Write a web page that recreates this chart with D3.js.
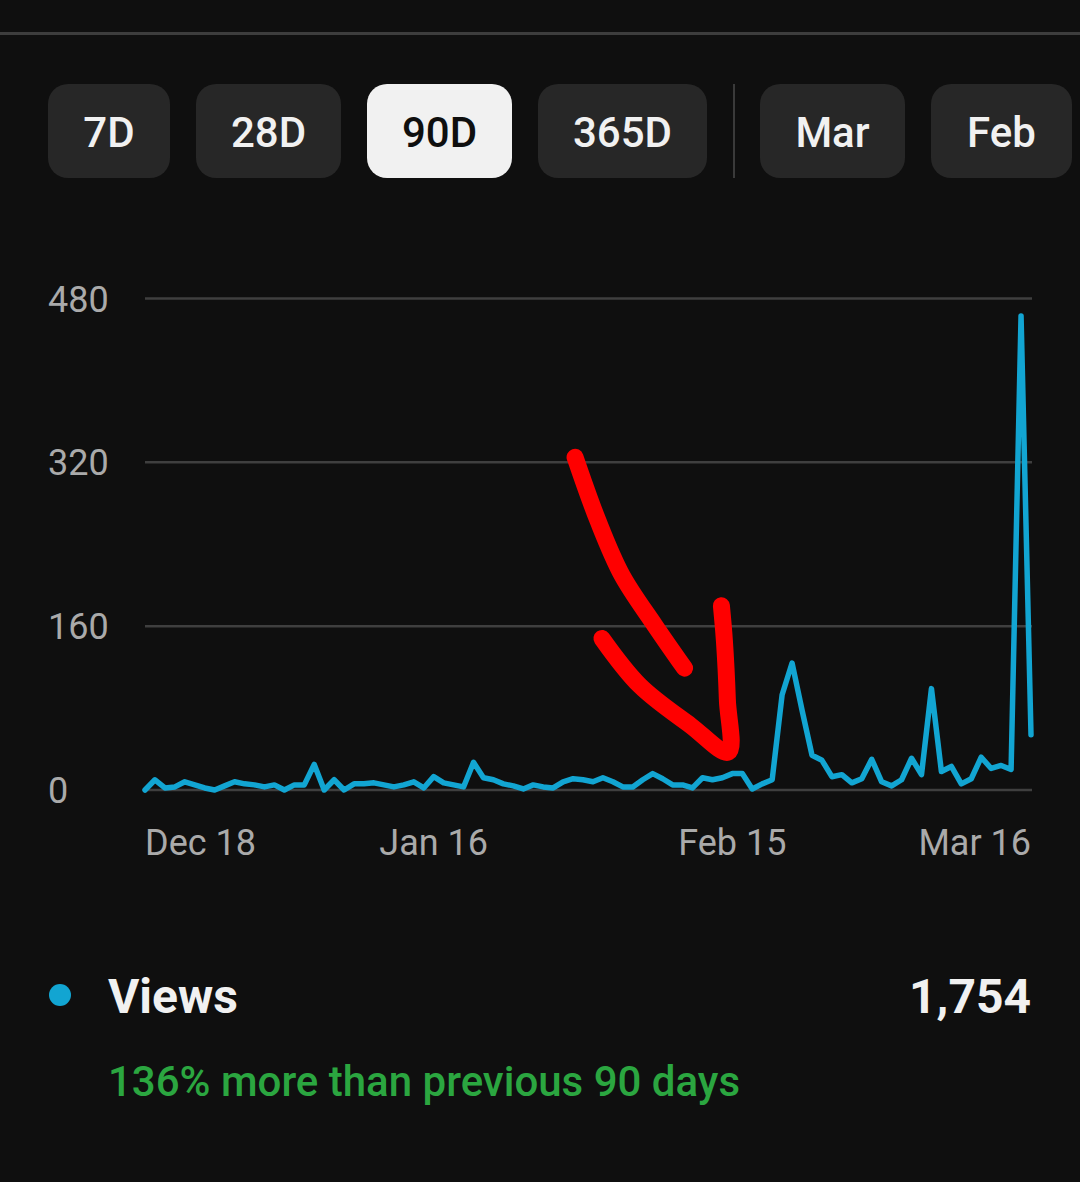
<!DOCTYPE html>
<html><head><meta charset="utf-8">
<script src="https://cdn.jsdelivr.net/npm/d3@7"></script>
<style>
html,body{margin:0;padding:0;background:#0f0f0f;}
svg{display:block;font-family:Roboto,"Noto Sans",sans-serif;}
</style></head>
<body><svg id="c" width="1080" height="1182"></svg>
<script>
// ---- data ----
const startDate = "2023-12-18";
const views = [0,10,2,3,8,5,2,0,4,8,6,5,3,5,0,5,5,25,0,10,0,6,6,7,5,3,5,8,2,13,7,5,3,
  27,12,10,6,4,1,5,3,2,8,11,10,8,12,8,3,3,10,16,11,5,5,2,12,10,12,16,16,1,6,10,
  93,124,78,34,29,13,15,7,11,30,8,4,10,31,15,99,18,23,6,11,32,21,24,20,463,54];
const yTicks = [0,160,320,480];
const xTickDates = ["2023-12-18","2024-01-16","2024-02-15","2024-03-16"];
const xTickLabels = ["Dec 18","Jan 16","Feb 15","Mar 16"];
const buttons = ["7D","28D","90D","365D","Mar","Feb"];
const selected = "90D";
const legendLabel = "Views";
const legendTotal = "1,754";
const comparison = "136% more than previous 90 days";
// hand-drawn annotation arrow, in data coordinates [dayIndex, value]
const arrowStroke1 = [[43.2,325],[45.5,263],[47.9,210],[51.2,161],[54.2,119]];
const arrowStroke2 = [[45.9,148],[49.7,102],[54.8,63],[58.6,37],[58.5,88],[58.2,146],[57.9,180]];

// ---- drawing ----
const svg = d3.select("#c");
const parse = d3.utcParse("%Y-%m-%d");
const d0 = parse(startDate);
const dates = views.map((v,i)=>d3.utcDay.offset(d0,i));
const data = views.map((v,i)=>({date:dates[i], v}));

svg.append("rect").attr("width",1080).attr("height",1182).attr("fill","#0f0f0f");
svg.append("rect").attr("x",0).attr("y",32).attr("width",1080).attr("height",3).attr("fill","#3d3d3d");

// buttons
const btnX = [48,196,367,538,760,931];
const btnW = [122,145,145,169,145,141];
const bg = svg.append("g");
buttons.forEach((b,i)=>{
  const sel = b===selected;
  bg.append("rect").attr("x",btnX[i]).attr("y",84).attr("width",btnW[i]).attr("height",94)
    .attr("rx",20).attr("fill", sel?"#f1f1f1":"#272727");
  bg.append("text").attr("x",btnX[i]+btnW[i]/2).attr("y",147).attr("text-anchor","middle")
    .attr("font-size",42).attr("font-weight",500).attr("fill", sel?"#0f0f0f":"#f1f1f1").text(b);
});
bg.append("rect").attr("x",733).attr("y",84).attr("width",2).attr("height",94).attr("fill","#3a3a3a");

const x = d3.scaleUtc().domain([dates[0], dates[dates.length-1]]).range([145,1031]);
const xi = d3.scaleLinear().domain([0, views.length-1]).range([145,1031]);
const y = d3.scaleLinear().domain([0,480]).range([790,298.5]);

// grid + y labels
const grid = svg.append("g");
yTicks.forEach(t=>{
  grid.append("line").attr("x1",145).attr("x2",1032).attr("y1",y(t)).attr("y2",y(t))
    .attr("stroke","#3f3f3f").attr("stroke-width",2.5);
  grid.append("text").attr("x",48).attr("y",y(t)+13).attr("font-size",36)
    .attr("fill","#aaaaaa").text(d3.format("d")(t));
});

// x labels
xTickDates.forEach((d,i)=>{
  const px = x(parse(d));
  const anchor = i===0?"start":(i===xTickDates.length-1?"end":"middle");
  const tx = i===xTickDates.length-1 ? 1031 : px;
  svg.append("text").attr("x",tx).attr("y",855).attr("text-anchor",anchor)
    .attr("font-size",36).attr("fill","#aaaaaa").text(xTickLabels[i]);
});

// line
const line = d3.line().x(d=>x(d.date)).y(d=>y(d.v)).curve(d3.curveLinear);
svg.append("path").datum(data).attr("d",line).attr("fill","none")
  .attr("stroke","#12a5d2").attr("stroke-width",5.5).attr("stroke-linejoin","round").attr("stroke-linecap","round");

// annotation arrow
const aline = d3.line().x(d=>xi(d[0])).y(d=>y(d[1])).curve(d3.curveCatmullRom);
[arrowStroke1, arrowStroke2].forEach(s=>{
  svg.append("path").attr("d",aline(s)).attr("fill","none").attr("stroke","#ff0000")
    .attr("stroke-width",17).attr("stroke-linecap","round").attr("stroke-linejoin","round");
});

// legend
svg.append("circle").attr("cx",60).attr("cy",995).attr("r",11).attr("fill","#12a5d2");
svg.append("text").attr("x",108).attr("y",1013).attr("font-size",48).attr("font-weight",700)
  .attr("fill","#f1f1f1").text(legendLabel);
svg.append("text").attr("x",1031).attr("y",1013).attr("text-anchor","end").attr("font-size",48)
  .attr("font-weight",700).attr("fill","#f1f1f1").text(legendTotal);
svg.append("text").attr("x",108).attr("y",1096).attr("font-size",42).attr("font-weight",500)
  .attr("fill","#2ba640").text(comparison);
</script></body></html>
